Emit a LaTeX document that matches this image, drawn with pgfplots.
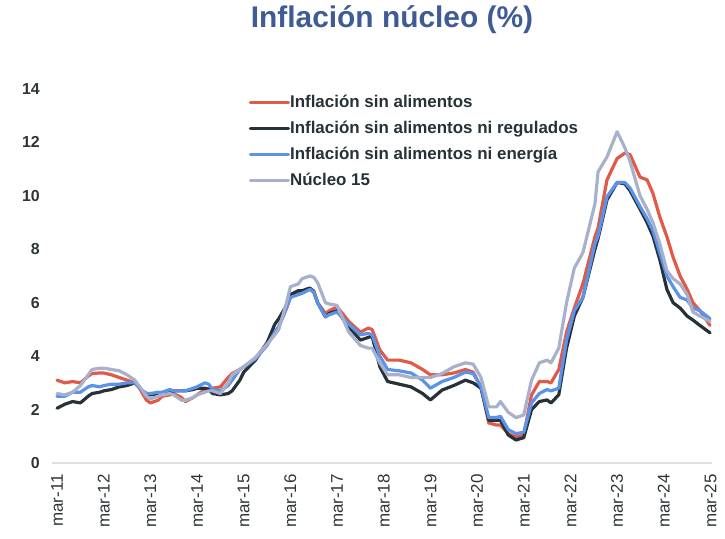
\documentclass[border=0pt]{standalone}
\usepackage{fontspec}
\setmainfont{Liberation Sans}
\usepackage{pgfplots}
\usepackage{pgfplotstable}
\pgfplotsset{compat=1.18}
\definecolor{cRed}{HTML}{E05A47}
\definecolor{cBlack}{HTML}{263238}
\definecolor{cBlue}{HTML}{5B93EB}
\definecolor{cGray}{HTML}{A8B1CB}
\definecolor{cTitle}{HTML}{3F5B96}
\definecolor{cLab}{HTML}{2E3538}
\definecolor{cAxis}{HTML}{DCE1E6}
\pgfplotstableread{
m R K B G
0 3.1 2.05 2.5 2.6
2 3.0 2.2 2.5 2.55
4 3.05 2.3 2.65 2.65
6 3.0 2.25 2.65 2.9
8 3.25 2.5 2.85 3.3
9 3.35 2.6 2.9 3.5
11 3.37 2.65 2.85 3.55
12 3.37 2.7 2.9 3.55
14 3.3 2.75 2.95 3.5
16 3.2 2.85 2.95 3.45
18 3.1 2.9 3.0 3.3
20 3.0 3.0 3.0 3.1
21 2.85 2.85 2.85 2.9
22 2.6 2.7 2.7 2.7
23 2.35 2.6 2.6 2.5
24 2.25 2.55 2.6 2.4
26 2.35 2.55 2.65 2.5
27 2.5 2.6 2.65 2.55
29 2.55 2.65 2.75 2.6
30 2.6 2.7 2.7 2.55
32 2.45 2.7 2.7 2.35
33 2.3 2.7 2.7 2.35
35 2.45 2.75 2.8 2.45
36 2.55 2.8 2.85 2.55
38 2.75 2.8 3.0 2.65
39 2.8 2.75 2.95 2.7
40 2.8 2.6 2.75 2.7
42 2.85 2.55 2.7 2.6
44 3.2 2.6 2.9 3.0
45 3.35 2.7 3.1 3.3
47 3.5 3.1 3.5 3.5
48 3.6 3.4 3.6 3.6
51 3.9 3.85 3.9 3.95
54 4.5 4.5 4.4 4.45
56 4.9 5.2 4.9 4.8
57 5.1 5.4 5.1 5.0
59 5.8 5.9 5.8 6.0
60 6.2 6.3 6.2 6.6
62 6.4 6.45 6.3 6.7
63 6.4 6.45 6.35 6.9
65 6.5 6.55 6.5 7.0
66 6.45 6.4 6.4 6.95
67 6.0 6.0 6.0 6.75
69 5.6 5.47 5.47 6.0
70 5.7 5.6 5.55 5.95
72 5.85 5.7 5.65 5.9
75 5.3 5.1 5.2 4.9
78 4.9 4.6 4.8 4.4
80 5.05 4.7 4.85 4.3
81 5.0 4.75 4.8 4.3
83 4.23 3.6 4.0 3.75
85 3.85 3.05 3.5 3.3
88 3.85 2.95 3.45 3.3
91 3.75 2.85 3.37 3.2
94 3.5 2.6 3.1 3.2
96 3.3 2.36 2.8 3.2
99 3.3 2.73 3.05 3.35
102 3.37 2.9 3.2 3.6
105 3.5 3.1 3.4 3.75
107 3.4 3.0 3.35 3.7
109 2.85 2.8 2.85 3.2
111 1.5 1.6 1.7 2.1
113 1.42 1.6 1.7 2.1
114 1.42 1.6 1.75 2.3
116 1.1 1.05 1.25 1.9
118 0.97 0.86 1.1 1.7
120 1.05 0.95 1.15 1.8
122 2.55 2.0 2.25 3.1
124 3.05 2.3 2.6 3.75
126 3.05 2.36 2.75 3.85
127 3.0 2.25 2.7 3.75
129 3.5 2.55 2.8 4.3
131 4.9 4.3 4.6 6.0
133 5.8 5.5 5.7 7.3
135.2 6.7 6.2 6.2 7.87
138.3 8.47 8.0 8.2 9.7
139.1 8.8 8.4 8.5 10.9
141.4 10.6 9.85 9.97 11.46
144 11.4 10.5 10.5 12.4
146 11.6 10.45 10.5 11.8
147.3 11.55 10.2 10.3 11.3
149.9 10.7 9.5 9.6 10.0
151.7 10.6 9.0 9.15 9.5
153.2 10.1 8.5 8.7 9.0
155 9.2 7.6 7.85 8.2
156.8 8.47 6.5 7.0 7.2
158.4 7.7 6.0 6.6 6.9
160.2 7.0 5.8 6.2 6.7
162 6.5 5.5 6.1 6.3
163.5 6.0 5.35 5.8 5.65
165.3 5.7 5.15 5.7 5.5
167.9 5.15 4.87 5.4 5.3
}\datatable
\begin{document}
\begin{tikzpicture}
\path[use as bounding box] (0,0) rectangle (725bp,539bp);
\node[font=\bfseries\fontsize{30}{30}\selectfont, text=cTitle, anchor=base] at (392bp,511bp) {Inflación núcleo (\%)};
\begin{axis}[
  at={(52bp,76bp)}, anchor=south west,
  scale only axis, width=660bp, height=374bp,
  xmin=-1.3, xmax=168.4, ymin=0, ymax=14,
  axis x line=bottom, axis y line=left,
  x axis line style={draw=cAxis, line width=1.5bp, -},
  y axis line style={draw=none},
  major tick length=0pt,
  xtick={0,12,...,168},
  xticklabels={mar-11,mar-12,mar-13,mar-14,mar-15,mar-16,mar-17,mar-18,mar-19,mar-20,mar-21,mar-22,mar-23,mar-24,mar-25},
  ytick={0,2,...,14},
  /pgf/number format/assume math mode=true,
  xticklabel style={font=\fontsize{17}{17}\selectfont, text=cLab, yshift=-11bp, rotate=90, anchor=east, inner sep=0pt},
  yticklabel style={font=\bfseries\fontsize{16}{16}\selectfont, text=cLab, anchor=east, inner sep=0pt, xshift=-12bp},
  legend cell align=left,
  legend image code/.code={\draw[#1, line width=3.2bp] (0bp,0bp) -- (38bp,0bp);},
  legend style={at={(axis cs:48.5,13.85)}, anchor=north west, draw=none, fill=none,
    font=\bfseries\fontsize{17}{17}\selectfont, text=cBlack, row sep=12bp,
    nodes={inner sep=0pt, text height=12bp, text depth=2bp},
    /tikz/every even column/.append style={column sep=3bp}},
  every axis plot/.append style={line width=3.2bp, line join=round, line cap=round},
]
\addplot[cRed] table[x=m, y=R] {\datatable};
\addplot[cBlack] table[x=m, y=K] {\datatable};
\addplot[cBlue] table[x=m, y=B] {\datatable};
\addplot[cGray] table[x=m, y=G] {\datatable};
\legend{Inflación sin alimentos, Inflación sin alimentos ni regulados, Inflación sin alimentos ni energía, Núcleo 15}
\end{axis}
\end{tikzpicture}
\end{document}
